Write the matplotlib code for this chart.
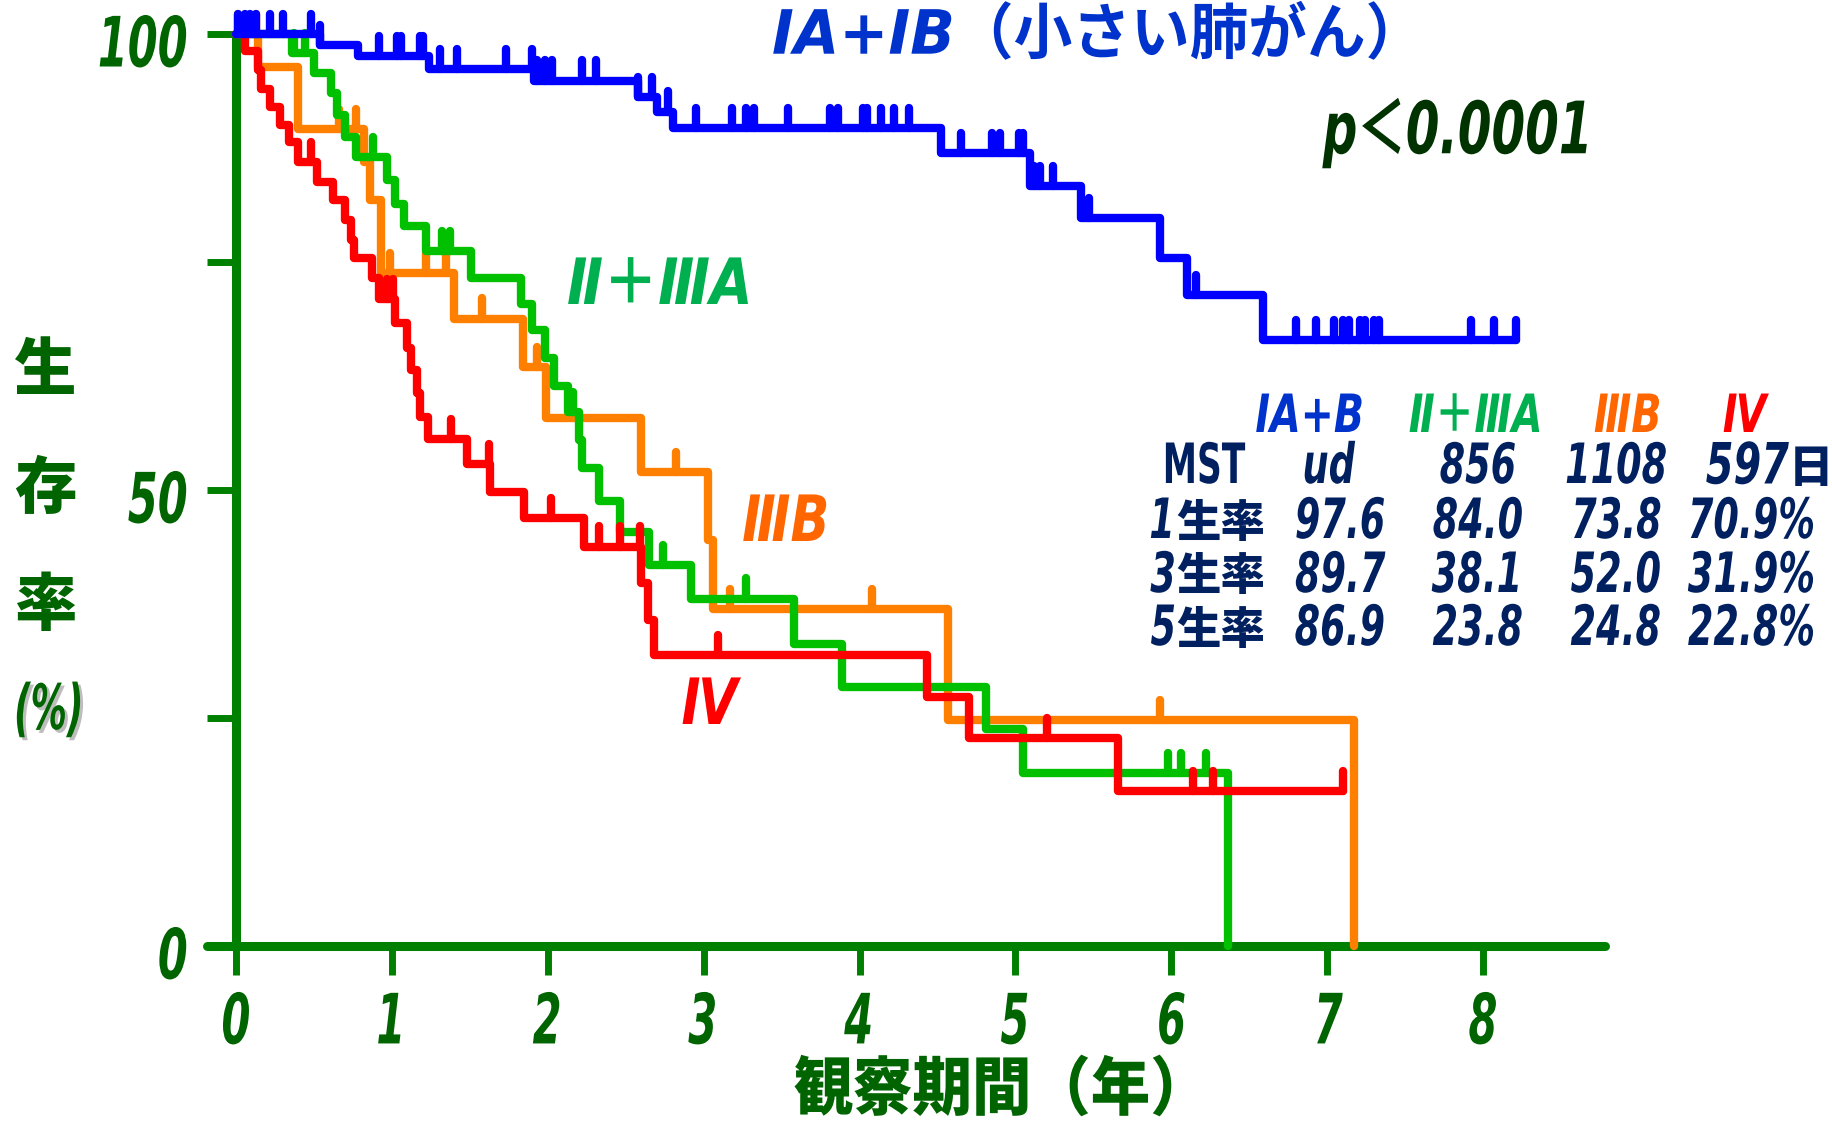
import numpy as np
import matplotlib
matplotlib.use("Agg")
import matplotlib.pyplot as plt
import matplotlib.patheffects as pe
from matplotlib.text import Text
from matplotlib.transforms import Affine2D, Bbox
from matplotlib.colors import to_rgb

# ---------------- data (years, survival %) ----------------
# Stage IA + IB
blue_t = [0.54, 0.78, 1.24, 1.91, 2.58, 2.70, 2.80, 4.52, 5.09, 5.42, 5.93, 6.10, 6.59]
blue_s = [98.8, 97.6, 96.2, 94.9, 93.1, 91.5, 89.7, 86.9, 83.3, 79.8, 75.4, 71.4, 66.4]
blue_c = [0.01, 0.06, 0.09, 0.13, 0.22, 0.30, 0.48, 0.54, 0.92, 1.03, 1.06, 1.18, 1.20,
          1.31, 1.42, 1.73, 1.90, 1.93, 1.98, 2.03, 2.22, 2.31, 2.58, 2.67, 2.77, 2.95,
          3.18, 3.27, 3.32, 3.54, 3.81, 3.86, 4.02, 4.05, 4.14, 4.22, 4.32, 4.65, 4.85,
          4.90, 5.02, 5.05, 5.12, 5.16, 5.24, 5.47, 6.16, 6.80, 6.93, 7.04, 7.10, 7.14,
          7.21, 7.24, 7.30, 7.33, 7.92, 8.07, 8.21]
blue_end = 8.21

# Stage II + IIIA
green_t = [0.36, 0.50, 0.61, 0.65, 0.70, 0.77, 0.97, 1.02, 1.08, 1.22, 1.51, 1.83, 1.90,
           1.98, 2.04, 2.13, 2.20, 2.22, 2.33, 2.46, 2.65, 2.92, 3.58, 3.89, 4.81, 5.05, 6.36]
green_s = [97.9, 95.7, 93.5, 91.1, 88.7, 86.5, 84.0, 81.4, 78.9, 76.2, 73.3, 70.4, 67.5,
           64.5, 61.4, 58.6, 55.5, 52.4, 48.8, 45.4, 41.8, 38.1, 33.1, 28.4, 23.8, 19.0, 0.0]
green_c = [0.37, 0.44, 0.88, 1.32, 1.37, 2.16, 2.74, 3.27, 5.98, 6.06, 6.22]
green_end = 6.36

# Stage IIIB
orange_t = [0.14, 0.40, 0.82, 0.86, 0.93, 1.40, 1.84, 1.99, 2.60, 3.03, 3.06, 4.57, 7.17]
orange_s = [96.4, 89.6, 86.0, 81.8, 73.8, 68.8, 63.5, 57.9, 52.0, 44.5, 36.9, 24.8, 0.0]
orange_c = [0.01, 0.13, 0.66, 0.77, 0.99, 1.22, 1.35, 1.58, 1.93, 2.82, 3.17, 4.08, 5.93]
orange_end = 7.17

# Stage IV
red_t = [0.06, 0.14, 0.16, 0.22, 0.28, 0.34, 0.40, 0.52, 0.62, 0.70, 0.74, 0.76, 0.87,
         0.92, 1.02, 1.10, 1.12, 1.16, 1.18, 1.23, 1.48, 1.63, 1.85, 2.23, 2.60, 2.64,
         2.68, 4.43, 4.70, 5.66]
red_s = [98.1, 96.1, 94.0, 92.0, 90.0, 88.2, 86.0, 83.8, 81.8, 79.6, 77.4, 75.4, 73.2,
         70.9, 68.3, 65.6, 63.2, 60.6, 58.0, 55.6, 52.8, 49.8, 46.9, 43.8, 39.8, 35.7,
         31.9, 27.3, 22.8, 17.0]
red_c = [0.48, 0.97, 1.01, 1.38, 1.62, 2.02, 2.33, 2.46, 2.59, 3.09, 5.20, 6.14, 6.27, 7.10]
red_end = 7.10

x_ticks = [0, 1, 2, 3, 4, 5, 6, 7, 8]
y_ticks = [0, 25, 50, 75, 100]
y_ticklabels = ["0", "", "50", "", "100"]

table_header = ["ⅠA+B", "Ⅱ＋ⅢA", "ⅢB", "Ⅳ"]
table_rows = ["MST", "1", "3", "5"]
table_values = [["ud", "856", "1108", "597"],
                ["97.6", "84.0", "73.8", "70.9%"],
                ["89.7", "38.1", "52.0", "31.9%"],
                ["86.9", "23.8", "24.8", "22.8%"]]

# ---------------- fonts / colours ----------------
NUM = "DejaVu Sans"
JP = "Noto Sans CJK JP"
MIX = [NUM, JP]
JPW = 900

C_BLUE, C_GREEN, C_ORANGE, C_RED = "#0000FF", "#00C000", "#FF8000", "#FF0000"
C_AXIS = "#008000"
C_TICKTXT = "#006400"
C_NAVY = "#002060"


class Squeeze(pe.AbstractPathEffect):
    """Draw text glyphs narrowed horizontally (condensed look)."""

    def __init__(self, sx=1.0, anchor="center", dy=0.0, shadow=None):
        super().__init__()
        self.sx, self.anchor, self.dy, self.shadow = sx, anchor, dy, shadow

    def draw_path(self, renderer, gc, tpath, affine, rgbFace=None):
        bb = tpath.get_extents(affine)
        if self.anchor == "left":
            cx = bb.x0
        elif self.anchor == "right":
            cx = bb.x1
        else:
            cx = 0.5 * (bb.x0 + bb.x1)
        tr = affine + Affine2D().translate(-cx, 0).scale(self.sx, 1).translate(cx, self.dy)
        if self.shadow is not None:
            (ox, oy), col, alpha = self.shadow
            gc0 = renderer.new_gc()
            gc0.copy_properties(gc)
            gc0.set_alpha(alpha)
            renderer.draw_path(gc0, tpath, tr + Affine2D().translate(ox, oy), to_rgb(col))
            gc0.restore()
        renderer.draw_path(gc, tpath, tr, rgbFace)


class NarrowText(Text):
    """Text drawn horizontally condensed; its extent reports the narrowed box."""

    def __init__(self, *args, sx=1.0, anchor="center", shadow=None, **kwargs):
        super().__init__(*args, **kwargs)
        self._sx, self._anchor = sx, anchor
        self.set_path_effects([Squeeze(sx, anchor=anchor, shadow=shadow)])

    def get_window_extent(self, renderer=None, dpi=None):
        bb = super().get_window_extent(renderer, dpi)
        if self._anchor == "left":
            cx = bb.x0
        elif self._anchor == "right":
            cx = bb.x1
        else:
            cx = 0.5 * (bb.x0 + bb.x1)
        return Bbox.from_extents(cx + (bb.x0 - cx) * self._sx, bb.y0,
                                 cx + (bb.x1 - cx) * self._sx, bb.y1)


W, H, DPI = 1833, 1121, 100
fig = plt.figure(figsize=(W / DPI, H / DPI), dpi=DPI)

# axes geometry in pixels
X0, XL, XR = 236, 207, 1605
Y100, Y0 = 34, 946
PPY = 155.9
ax = fig.add_axes([XL / W, 1 - Y0 / H, (XR - XL) / W, (Y0 - Y100) / H])
ax.set_xlim(-(X0 - XL) / PPY, (XR - X0) / PPY)
ax.set_ylim(0, 100)

for s in ("top", "right"):
    ax.spines[s].set_visible(False)
ax.spines["left"].set_position(("data", 0))
for s in ("left", "bottom"):
    ax.spines[s].set_color(C_AXIS)
    ax.spines[s].set_linewidth(6.5)
    ax.spines[s].set_capstyle("round")

ax.set_xticks(x_ticks)
ax.set_yticks(y_ticks)
ax.set_yticklabels(y_ticklabels)
ax.tick_params(axis="both", direction="out", color=C_AXIS, width=5, length=21,
               labelcolor=C_TICKTXT)
ax.tick_params(axis="x", pad=11)
ax.tick_params(axis="y", pad=13)
for lab in ax.get_xticklabels() + ax.get_yticklabels():
    lab.set_fontfamily(NUM)
    lab.set_fontweight("bold")
    lab.set_fontstyle("italic")
    lab.set_fontsize(50)
for lab in ax.get_xticklabels():
    lab.set_path_effects([Squeeze(0.6)])
for lab in ax.get_yticklabels():
    lab.set_path_effects([Squeeze(0.62, anchor="right", dy=-6)])

CENSOR_H = 2.2
LW = 6


def km(times, surv, cens, end, color, z):
    xs = np.r_[0.0, times, end]
    ys = np.r_[100.0, surv, surv[-1]]
    ax.step(xs, ys, where="post", color=color, lw=LW, zorder=z, clip_on=False,
            solid_capstyle="round", solid_joinstyle="round")
    t = np.asarray(times)
    lev = np.r_[100.0, surv]
    idx = np.searchsorted(t, np.asarray(cens), side="right")
    yc = lev[idx]
    ax.vlines(cens, yc, yc + CENSOR_H, color=color, lw=LW, zorder=z, clip_on=False,
              capstyle="round")


km(orange_t, orange_s, orange_c, orange_end, C_ORANGE, 3)
km(green_t, green_s, green_c, green_end, C_GREEN, 4)
km(red_t, red_s, red_c, red_end, C_RED, 5)
km(blue_t, blue_s, blue_c, blue_end, C_BLUE, 6)


def ftext(xp, yp, s, sx=None, anchor="center", shadow=None, **kw):
    """Place a figure text at pixel position (xp, yp) measured from the top-left."""
    if sx is None:
        return fig.text(xp / W, 1 - yp / H, s, **kw)
    t = NarrowText(xp / W, 1 - yp / H, s, sx=sx, anchor=anchor, shadow=shadow,
                   transform=fig.transFigure, **kw)
    t.set_figure(fig)
    fig.texts.append(t)
    return t


BI = dict(weight="bold", style="italic", va="center")

# title and p-value
ftext(1099, 37, "ⅠA+ⅠB（小さい肺がん）", sx=0.96, family=MIX, size=44,
      color="#0033CC", ha="center", **BI)
ftext(1323, 133, "p＜0.0001", sx=0.67, anchor="left", family=MIX, size=52,
      color="#003300", ha="left", **BI)

# group labels on the curves
ftext(660, 286, "Ⅱ＋ⅢA", sx=0.86, family=MIX, size=46, color="#00B050",
      ha="center", **BI)
ftext(786, 523, "ⅢB", sx=0.8, family=MIX, size=46, color="#FF6600", ha="center", **BI)
ftext(709, 706, "Ⅳ", sx=0.8, family=MIX, size=46, color="#FF0000", ha="center", **BI)

# axis titles
for ch, yp in zip(["生", "存", "率"], [371, 489, 606]):
    ftext(45, yp, ch, family=JP, weight=JPW, size=45, color=C_TICKTXT,
          ha="center", va="center")
ftext(12, 712, "(%)", sx=0.58, anchor="left", shadow=((3, -3), "#888888", 0.55),
      family=NUM, size=45, color=C_TICKTXT, ha="left", **BI)
ftext(1003, 1091, "観察期間（年）", sx=0.93, family=JP, weight=JPW, size=46,
      color=C_TICKTXT, ha="center", va="center")

# summary table
hdr_x = [1310, 1476, 1628, 1744]
hdr_c = ["#0033CC", "#00B050", "#FF6600", "#FF0000"]
for s, xp, c in zip(table_header, hdr_x, hdr_c):
    ftext(xp, 417, s, sx=0.75, family=MIX, size=38, color=c, ha="center", **BI)

row_y = [468, 523, 577, 630]
col_x = [1340, 1478, 1616]
RIGHT_EDGE = 1816
VSX = 0.66
for r, (lab, vals, yp) in enumerate(zip(table_rows, table_values, row_y)):
    if r == 0:
        ftext(1203, yp, lab, sx=0.62, family=NUM, weight="bold", size=40,
              color=C_NAVY, ha="center", va="center")
    else:
        ftext(1177, yp, lab, sx=VSX, anchor="right", family=NUM, size=40,
              color=C_NAVY, ha="right", **BI)
        ftext(1176, yp, "生率", family=JP, weight=JPW, size=32, color=C_NAVY,
              ha="left", va="center")
    for j, v in enumerate(vals):
        if j == 3:
            if r == 0:
                ftext(1789, yp, v, sx=0.7, anchor="right", family=NUM, size=41,
                      color=C_NAVY, ha="right", **BI)
                ftext(1789, yp, "日", family=JP, weight=JPW, size=32, color=C_NAVY,
                      ha="left", va="center")
            else:
                ftext(RIGHT_EDGE, yp, v, sx=VSX, anchor="right", family=NUM, size=40,
                      color=C_NAVY, ha="right", **BI)
        elif r == 0 and j == 0:
            ftext(1328, yp, v, sx=VSX, family=NUM, size=40, color=C_NAVY,
                  ha="center", **BI)
        else:
            ftext(col_x[j], yp, v, sx=VSX, family=NUM, size=40, color=C_NAVY,
                  ha="center", **BI)

fig.savefig("out.png", dpi=DPI, facecolor="white")
